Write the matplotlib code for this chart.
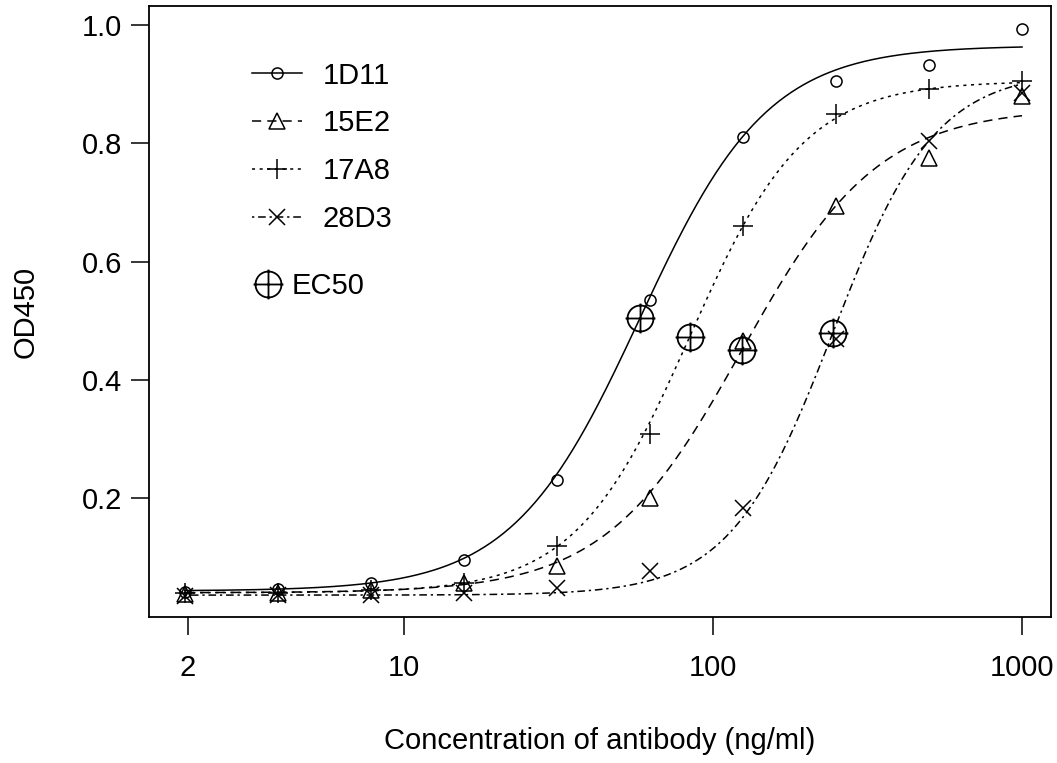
import numpy as np
import matplotlib
matplotlib.use("Agg")
import matplotlib.pyplot as plt
from matplotlib.lines import Line2D
from matplotlib.path import Path

plt.rcParams['font.family'] = ['Liberation Sans', 'DejaVu Sans']

# dilution series (ng/ml)
conc = [1.953125, 3.90625, 7.8125, 15.625, 31.25, 62.5, 125, 250, 500, 1000]

# OD450
od_1D11 = [0.042, 0.046, 0.056, 0.095, 0.230, 0.535, 0.811, 0.905, 0.932, 0.993]
od_15E2 = [0.038, 0.040, 0.045, 0.056, 0.085, 0.200, 0.466, 0.694, 0.775, 0.880]
od_17A8 = [0.039, 0.040, 0.044, 0.056, 0.119, 0.308, 0.660, 0.850, 0.892, 0.905]
od_28D3 = [0.034, 0.036, 0.036, 0.039, 0.048, 0.077, 0.183, 0.469, 0.804, 0.885]

# 4-parameter logistic fits (bottom, top, ec50, hill)
fit_1D11 = [0.043, 0.965, 58.0, 2.10]
fit_15E2 = [0.040, 0.860, 124.0, 1.96]
fit_17A8 = [0.040, 0.905, 84.0, 2.34]
fit_28D3 = [0.036, 0.922, 244.0, 2.61]

names = ['1D11', '15E2', '17A8', '28D3']
markers = ['o', '^', '+', 'x']
msizes = [8, 12, 14, 12]
dashes = [None, (6, 4), (2, 3), (1.5, 2.5, 5, 2.5)]

FS = 21


def ll4(x, p):
    c, d, e, b = p
    return c + (d - c) / (1 + np.exp(-b * np.log(x / e)))


# circle with a cross through it, for the EC50 marks
circ = Path.unit_circle()
cross = Path([(-1.15, 0), (1.15, 0), (0, -1.15), (0, 1.15)],
             [Path.MOVETO, Path.LINETO, Path.MOVETO, Path.LINETO])
ec_marker = Path.make_compound_path(circ, cross)

fig = plt.figure(figsize=(10.57, 7.63), dpi=100)
ax = fig.add_axes([149 / 1057, 146 / 763, 902 / 1057, 611 / 763])

xs = np.logspace(np.log10(conc[0]), np.log10(conc[-1]), 400)
handles = []
for nm, od, fit, mk, ms, ds in zip(names, [od_1D11, od_15E2, od_17A8, od_28D3],
                                   [fit_1D11, fit_15E2, fit_17A8, fit_28D3],
                                   markers, msizes, dashes):
    ln, = ax.plot(xs, ll4(xs, fit), color='black', lw=1.1)
    if ds is not None:
        ln.set_dashes(ds)
    ax.plot(conc, od, linestyle='none', marker=mk, ms=ms, mfc='none',
            mec='black', mew=1.1)
    h = Line2D([], [], color='black', lw=1.1, marker=mk, ms=ms, mfc='none',
               mec='black', mew=1.1)
    if ds is not None:
        h.set_dashes(ds)
    handles.append(h)

# EC50 points
ec50 = [fit_1D11[2], fit_17A8[2], fit_15E2[2], fit_28D3[2]]
ec50_od = [(f[0] + f[1]) / 2 for f in [fit_1D11, fit_17A8, fit_15E2, fit_28D3]]
ax.plot(ec50, ec50_od, linestyle='none', marker=ec_marker, ms=21.5, mfc='none',
        mec='black', mew=1.3)

ax.set_xscale('log')
ax.set_xlim(1.496, 1241)
ax.set_ylim(-0.001, 1.032)
ax.set_xticks([2, 10, 100, 1000])
ax.set_xticklabels(['2', '10', '100', '1000'])
ax.xaxis.set_minor_locator(matplotlib.ticker.NullLocator())
ax.set_yticks([0.2, 0.4, 0.6, 0.8, 1.0])
ax.set_yticklabels(['0.2', '0.4', '0.6', '0.8', '1.0'])
ax.tick_params(length=13, width=1.1, labelsize=FS, color='black')
ax.tick_params(axis='x', pad=14)
ax.tick_params(axis='y', pad=6.5)
for s in ax.spines.values():
    s.set_linewidth(1.3)

ax.set_xlabel('Concentration of antibody (ng/ml)', fontsize=FS, labelpad=32)
ax.set_ylabel('OD450', fontsize=FS, labelpad=30)

leg1 = ax.legend(handles, names, loc='upper left', frameon=False, fontsize=FS,
                 bbox_to_anchor=(0.114, 0.909), borderaxespad=0, borderpad=0,
                 handlelength=1.71, handletextpad=0.72, labelspacing=0.68)
ax.add_artist(leg1)
ec_h = Line2D([], [], ls='none', marker=ec_marker, ms=21.5, mfc='none',
              mec='black', mew=1.3)
ax.legend([ec_h], ['EC50'], loc='upper left', frameon=False, fontsize=FS,
          bbox_to_anchor=(0.116, 0.564), borderaxespad=0, borderpad=0,
          handlelength=1.0, handletextpad=0.3)

fig.savefig('out.png', dpi=100)
